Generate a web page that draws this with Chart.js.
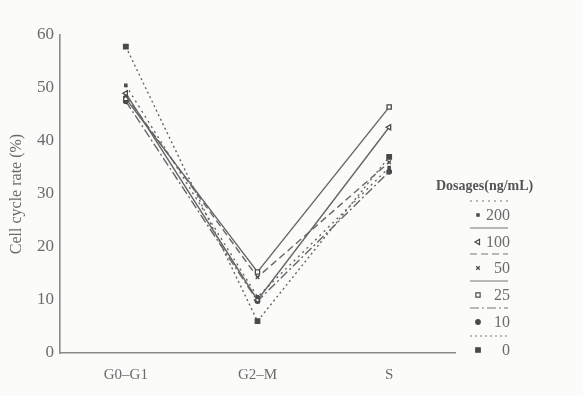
<!DOCTYPE html>
<html>
<head>
<meta charset="utf-8">
<script src="https://cdn.jsdelivr.net/npm/chart.js@4"></script>
<style>
  body { margin: 0; background: #fbfbfa; }
  #wrap { width: 583px; height: 396px; }
</style>
</head>
<body>
<div id="wrap"><canvas id="myChart" width="583" height="396"></canvas></div>
<script>
// categories and values
const phases = ["G0\u2013G1", "G2\u2013M", "S"];
const dosages = ["200", "100", "50", "25", "10", "0"];
const rate200 = [50.5, 10.6, 35.0];
const rate100 = [49.0, 10.0, 42.6];
const rate50 = [48.5, 14.3, 36.0];
const rate25 = [48.0, 15.3, 46.4];
const rate10 = [47.5, 9.8, 34.2];
const rate0 = [57.8, 6.0, 37.0];
const yTicks = [0, 10, 20, 30, 40, 50, 60];

const ink = "#6b6b6b";
const serif = "'Liberation Serif', 'DejaVu Serif', serif";

function series(label, data, dash, style, filled, radius, rotation) {
  return {
    label: label,
    data: data,
    borderColor: "#666",
    borderWidth: 1.4,
    borderDash: dash,
    pointStyle: style,
    pointRotation: rotation || 0,
    pointRadius: radius,
    pointBorderWidth: 1.3,
    pointBorderColor: "#4a4a4a",
    pointBackgroundColor: filled ? "#4a4a4a" : "#fff",
    tension: 0,
  };
}

const datasets = [
  series(dosages[0], rate200, [2, 4], "rect", true, 1.6),
  series(dosages[1], rate100, [], "triangle", false, 3, -90),
  series(dosages[2], rate50, [7, 4], "crossRot", false, 2.5),
  series(dosages[3], rate25, [], "rect", false, 3),
  series(dosages[4], rate10, [9, 3, 2, 3], "circle", true, 2.3),
  series(dosages[5], rate0, [2, 3], "rect", true, 3.2),
];

// legend drawn to the right like the printed figure
const sideLegend = {
  id: "sideLegend",
  afterDraw(chart) {
    const ctx = chart.ctx;
    ctx.save();
    ctx.fillStyle = "#555";
    ctx.font = "bold 14px " + serif;
    ctx.textBaseline = "middle";
    ctx.fillText("Dosages(ng/mL)", 436, 186);
    const ys = [215, 242, 268, 295, 322, 350];
    chart.data.datasets.forEach((ds, i) => {
      const y = ys[i];
      ctx.strokeStyle = "#777";
      ctx.lineWidth = 1.2;
      ctx.setLineDash(ds.borderDash);
      ctx.beginPath();
      ctx.moveTo(470, y - 14);
      ctx.lineTo(508, y - 14);
      ctx.stroke();
      ctx.setLineDash([]);
      ctx.fillStyle = ds.pointBackgroundColor;
      ctx.strokeStyle = ds.pointBorderColor;
      Chart.helpers.drawPoint(ctx, {
        pointStyle: ds.pointStyle,
        rotation: ds.pointRotation,
        radius: ds.pointRadius,
        borderWidth: 1,
      }, 478, y);
      ctx.fillStyle = ink;
      ctx.font = "16px " + serif;
      ctx.textAlign = "right";
      ctx.fillText(ds.label, 510, y + 1);
      ctx.textAlign = "left";
    });
    ctx.restore();
  },
};

new Chart(document.getElementById("myChart"), {
  type: "line",
  data: { labels: phases, datasets: datasets },
  plugins: [sideLegend],
  options: {
    responsive: false,
    animation: false,
    layout: { padding: { top: 35, right: 128, left: 5 } },
    plugins: { legend: { display: false }, tooltip: { enabled: false } },
    scales: {
      x: {
        offset: true,
        grid: { display: false, drawTicks: false },
        border: { color: "#8a8a8a", width: 1.6 },
        ticks: { color: ink, font: { family: serif, size: 15 }, padding: 13 },
        afterFit(s) { s.height = 43; },
      },
      y: {
        min: 0,
        max: 60,
        afterBuildTicks(s) { s.ticks = yTicks.map(v => ({ value: v })); },
        grid: { display: false, drawTicks: true, tickLength: 5, tickColor: "#8a8a8a" },
        border: { color: "#8a8a8a", width: 1.6 },
        ticks: { color: ink, font: { family: serif, size: 17 }, padding: 1 },
        title: {
          display: true,
          text: "Cell cycle rate (%)",
          color: ink,
          font: { family: serif, size: 16 },
          padding: 2,
        },
        afterFit(s) { s.width = 55; },
      },
    },
  },
});
</script>
</body>
</html>
